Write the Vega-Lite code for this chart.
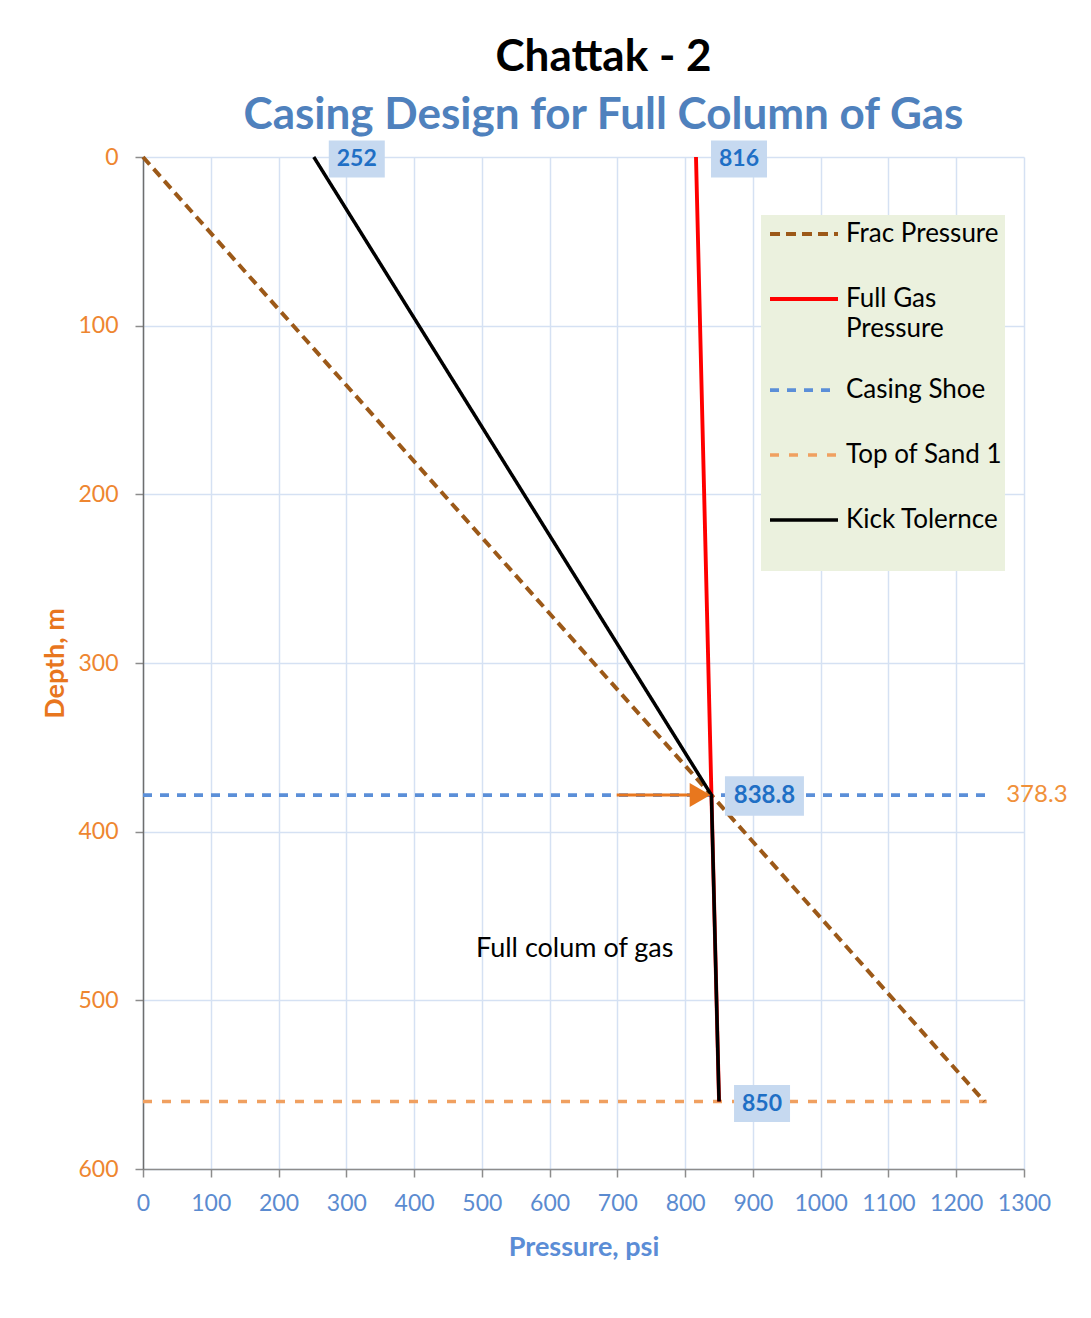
{
  "$schema": "https://vega.github.io/schema/vega-lite/v6.json",
  "autosize": "none",
  "width": 881,
  "height": 1012,
  "padding": {"left": 143, "top": 157, "right": 67, "bottom": 149},
  "background": "white",
  "title": {
    "text": "Chattak - 2",
    "subtitle": "Casing Design for Full Column of Gas",
    "anchor": "middle",
    "dx": 20,
    "offset": 3,
    "font": "Lato",
    "fontSize": 44,
    "fontWeight": "bold",
    "color": "black",
    "subtitleFont": "Lato",
    "subtitleFontSize": 44,
    "subtitleFontWeight": "bold",
    "subtitleColor": "#4F81BD",
    "subtitlePadding": 14
  },
  "datasets": {
    "lines": [
      {"series": "Casing Shoe", "p": 0, "d": 378.3, "o": 1},
      {"series": "Casing Shoe", "p": 1245, "d": 378.3, "o": 2},
      {"series": "Top of Sand 1", "p": 0, "d": 560, "o": 1},
      {"series": "Top of Sand 1", "p": 1245, "d": 560, "o": 2},
      {"series": "Frac Pressure", "p": 0, "d": 0, "o": 1},
      {"series": "Frac Pressure", "p": 1241.5, "d": 560, "o": 2},
      {"series": "Full Gas Pressure", "p": 816, "d": 0, "o": 1},
      {"series": "Full Gas Pressure", "p": 838.8, "d": 378.3, "o": 2},
      {"series": "Full Gas Pressure", "p": 850, "d": 560, "o": 3},
      {"series": "Kick Tolernce", "p": 252, "d": 0, "o": 1},
      {"series": "Kick Tolernce", "p": 838.8, "d": 378.3, "o": 2},
      {"series": "Kick Tolernce", "p": 850, "d": 560, "o": 3}
    ],
    "small_boxes": [
      {"p": 252, "d": 0, "label": "252"},
      {"p": 816, "d": 0, "label": "816"},
      {"p": 850, "d": 560, "label": "850"}
    ],
    "wide_boxes": [
      {"p": 838.8, "d": 378.3, "label": "838.8"}
    ],
    "arrow": [
      {"p": 699, "d": 378.3, "o": 1},
      {"p": 815, "d": 378.3, "o": 2}
    ],
    "arrowhead": [
      {"p": 822, "d": 378.3}
    ],
    "shoe_note": [
      {"p": 1319, "d": 378.3, "label": "378.3"}
    ],
    "gas_note": [
      {"p": 637, "d": 468, "label": "Full colum of gas"}
    ]
  },
  "layer": [
    {
      "data": {"name": "lines"},
      "mark": {"type": "line", "clip": false},
      "encoding": {
        "x": {
          "field": "p", "type": "quantitative",
          "scale": {"domain": [0, 1300], "nice": false, "zero": false},
          "axis": {
            "title": "Pressure, psi",
            "format": "d",
            "values": [0,100,200,300,400,500,600,700,800,900,1000,1100,1200,1300],
            "grid": true,
            "gridColor": "#D5E1F3",
            "gridWidth": 1.5,
            "domainColor": "#8C8C8C",
            "domainWidth": 1.5,
            "tickColor": "#8C8C8C",
            "tickSize": 8,
            "tickWidth": 1.5,
            "labelFont": "Lato",
            "labelFontSize": 23,
            "labelColor": "#5B8BD0",
            "labelPadding": 15,
            "labelFlush": false,
            "titleFont": "Lato",
            "titleFontSize": 27,
            "titleFontWeight": "bold",
            "titleColor": "#5B8DD6",
            "titlePadding": 19
          }
        },
        "y": {
          "field": "d", "type": "quantitative",
          "scale": {"domain": [0, 600], "reverse": true, "nice": false, "zero": false},
          "axis": {
            "title": "Depth, m",
            "values": [0,100,200,300,400,500,600],
            "grid": true,
            "gridColor": "#D5E1F3",
            "gridWidth": 1.5,
            "domainColor": "#6E6E6E",
            "domainWidth": 1.5,
            "tickColor": "#8C8C8C",
            "tickSize": 8,
            "tickWidth": 1.5,
            "labelFont": "Lato",
            "labelFontSize": 23,
            "labelColor": "#EE8630",
            "labelPadding": 17,
            "titleFont": "Lato",
            "titleFontSize": 27,
            "titleFontWeight": "bold",
            "titleColor": "#E8761E",
            "titlePadding": 8
          }
        },
        "order": {"field": "o", "type": "quantitative"},
        "color": {
          "field": "series", "type": "nominal",
          "scale": {
            "domain": ["Frac Pressure", "Full Gas Pressure", "Casing Shoe", "Top of Sand 1", "Kick Tolernce"],
            "range": ["#9C5918", "#FF0000", "#5B8FD8", "#F0A060", "#000000"]
          },
          "legend": {
            "title": " ",
            "titleOrient": "bottom",
            "titleFontSize": 2,
            "titlePadding": 30,
            "orient": "none",
            "legendX": 618,
            "legendY": 58,
            "fillColor": "#EBF1DE",
            "padding": 2,
            "symbolType": "stroke",
            "symbolSize": 4624,
            "symbolOffset": 5,
            "clipHeight": 34,
            "labelFont": "Lato",
            "labelFontSize": 26,
            "labelColor": "#000000",
            "labelOffset": 6,
            "labelLimit": 300,
            "rowPadding": 31,
            "labelExpr": "datum.label == 'Full Gas Pressure' ? ['Full Gas', 'Pressure'] : datum.label"
          }
        },
        "strokeDash": {
          "field": "series", "type": "nominal",
          "scale": {
            "domain": ["Frac Pressure", "Full Gas Pressure", "Casing Shoe", "Top of Sand 1", "Kick Tolernce"],
            "range": [[10, 6], [1, 0], [9, 8], [9, 10], [1, 0]]
          },
          "legend": {
            "title": " ",
            "titleOrient": "bottom",
            "titleFontSize": 2,
            "titlePadding": 30,
            "orient": "none",
            "legendX": 618,
            "legendY": 58,
            "fillColor": "#EBF1DE",
            "padding": 2,
            "symbolType": "stroke",
            "symbolSize": 4624,
            "symbolOffset": 5,
            "clipHeight": 34,
            "labelFont": "Lato",
            "labelFontSize": 26,
            "labelColor": "#000000",
            "labelOffset": 6,
            "labelLimit": 300,
            "rowPadding": 31,
            "labelExpr": "datum.label == 'Full Gas Pressure' ? ['Full Gas', 'Pressure'] : datum.label"
          }
        },
        "strokeWidth": {
          "field": "series", "type": "nominal",
          "scale": {
            "domain": ["Frac Pressure", "Full Gas Pressure", "Casing Shoe", "Top of Sand 1", "Kick Tolernce"],
            "range": [4, 3.5, 2.3, 2.3, 4]
          },
          "legend": {
            "title": " ",
            "titleOrient": "bottom",
            "titleFontSize": 2,
            "titlePadding": 30,
            "orient": "none",
            "legendX": 618,
            "legendY": 58,
            "fillColor": "#EBF1DE",
            "padding": 2,
            "symbolType": "stroke",
            "symbolSize": 4624,
            "symbolOffset": 5,
            "clipHeight": 34,
            "labelFont": "Lato",
            "labelFontSize": 26,
            "labelColor": "#000000",
            "labelOffset": 6,
            "labelLimit": 300,
            "rowPadding": 31,
            "labelExpr": "datum.label == 'Full Gas Pressure' ? ['Full Gas', 'Pressure'] : datum.label"
          }
        }
      }
    },
    {
      "data": {"name": "arrow"},
      "mark": {"type": "line", "color": "#E8771E", "strokeWidth": 3},
      "encoding": {
        "x": {"field": "p", "type": "quantitative"},
        "y": {"field": "d", "type": "quantitative"},
        "order": {"field": "o", "type": "quantitative"}
      }
    },
    {
      "data": {"name": "arrowhead"},
      "mark": {"type": "point", "shape": "triangle-right", "filled": true, "color": "#E8771E", "opacity": 1, "size": 576, "strokeWidth": 0},
      "encoding": {
        "x": {"field": "p", "type": "quantitative"},
        "y": {"field": "d", "type": "quantitative"}
      }
    },
    {
      "data": {"name": "small_boxes"},
      "mark": {"type": "point", "shape": "M-1,-0.66H1V0.66H-1Z", "filled": true, "color": "#C6D9F0", "opacity": 1, "size": 3136, "strokeWidth": 0, "xOffset": 43, "yOffset": 2},
      "encoding": {
        "x": {"field": "p", "type": "quantitative"},
        "y": {"field": "d", "type": "quantitative"}
      }
    },
    {
      "data": {"name": "wide_boxes"},
      "mark": {"type": "point", "shape": "M-1,-0.5H1V0.5H-1Z", "filled": true, "color": "#C6D9F0", "opacity": 1, "size": 6241, "strokeWidth": 0, "xOffset": 53, "yOffset": 1},
      "encoding": {
        "x": {"field": "p", "type": "quantitative"},
        "y": {"field": "d", "type": "quantitative"}
      }
    },
    {
      "data": {"name": "small_boxes"},
      "mark": {"type": "text", "font": "Lato", "fontSize": 23, "fontWeight": "bold", "color": "#1F6FC5", "align": "center", "baseline": "middle", "dx": 43, "dy": 2},
      "encoding": {
        "x": {"field": "p", "type": "quantitative"},
        "y": {"field": "d", "type": "quantitative"},
        "text": {"field": "label"}
      }
    },
    {
      "data": {"name": "wide_boxes"},
      "mark": {"type": "text", "font": "Lato", "fontSize": 24, "fontWeight": "bold", "color": "#1F6FC5", "align": "center", "baseline": "middle", "dx": 53, "dy": 1},
      "encoding": {
        "x": {"field": "p", "type": "quantitative"},
        "y": {"field": "d", "type": "quantitative"},
        "text": {"field": "label"}
      }
    },
    {
      "data": {"name": "shoe_note"},
      "mark": {"type": "text", "font": "Lato", "fontSize": 24, "color": "#F0913A", "align": "center", "baseline": "middle"},
      "encoding": {
        "x": {"field": "p", "type": "quantitative"},
        "y": {"field": "d", "type": "quantitative"},
        "text": {"field": "label"}
      }
    },
    {
      "data": {"name": "gas_note"},
      "mark": {"type": "text", "font": "Lato", "fontSize": 27, "color": "#000000", "align": "center", "baseline": "middle", "dy": 3},
      "encoding": {
        "x": {"field": "p", "type": "quantitative"},
        "y": {"field": "d", "type": "quantitative"},
        "text": {"field": "label"}
      }
    }
  ],
  "config": {
    "view": {"stroke": null},
    "axis": {"labelFont": "Lato", "titleFont": "Lato"},
    "text": {"font": "Lato"},
    "style": {"guide-label": {"lineHeight": 30}}
  }
}
